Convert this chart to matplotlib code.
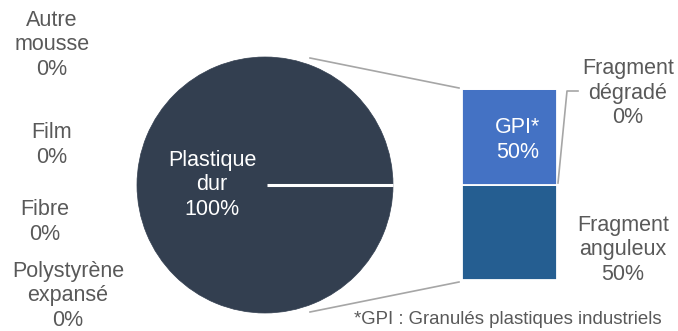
import matplotlib.pyplot as plt

# pie part
pie_labels = ["Autre\nmousse", "Film", "Fibre", "Polystyrène\nexpansé", "Plastique\ndur"]
pie_values = [0, 0, 0, 0, 100]

# bar part (breakdown)
bar_labels = ["Fragment\nanguleux", "GPI*", "Fragment\ndégradé"]
bar_values = [50, 50, 0]

footnote = "*GPI : Granulés plastiques industriels"

text_grey = "#595959"
pie_color = "#333F50"
bar_colors = ["#255E91", "#4472C4", "#A5A5A5"]
line_grey = "#A6A6A6"

plt.rcParams["font.family"] = ["Liberation Sans", "DejaVu Sans"]

fig = plt.figure(figsize=(6.78, 3.31), dpi=100)
ax = fig.add_axes([0, 0, 1, 1])

# pie drawn in pixel-like coords
cx, cy, r = 265, 185, 128
ax.pie(
    pie_values,
    colors=[pie_color] * len(pie_values),
    center=(cx, cy),
    radius=r,
    startangle=0,
    counterclock=False,
    wedgeprops=dict(edgecolor=pie_color, linewidth=0.5),
    frame=True,
)
# boundary of the empty slices, at the start angle
ax.plot([cx + 2, cx + r], [cy, cy], color="white", lw=2.2, solid_capstyle="butt")

ax.set_xlim(0, 678)
ax.set_ylim(331, 0)
ax.set_aspect("equal")
ax.axis("off")

# stacked bar
bx, bw = 509.5, 95
b_bottom, b_top = 280, 89
scale = (b_bottom - b_top) / sum(bar_values)
base = b_bottom
for val, col in zip(bar_values, bar_colors):
    h = val * scale
    ax.bar(bx, -h, bottom=base, width=bw, color=col, edgecolor="white", linewidth=1.3)
    base -= h

# connector lines
ax.plot([310, 459], [58, 88], color=line_grey, lw=1.2)
ax.plot([310, 459], [312, 282], color=line_grey, lw=1.2)
ax.plot([558, 567, 578], [183, 91, 91], color=line_grey, lw=1.2)

fs = 15.5
ls = 1.2
pie_pos = [(52, 45), (52, 145), (45, 222), (68, 296)]
for lab, val, (x, y) in zip(pie_labels[:4], pie_values[:4], pie_pos):
    ax.text(x, y, f"{lab}\n{val}%", ha="center", va="center", fontsize=fs,
            color=text_grey, linespacing=ls)
ax.text(212, 185, f"{pie_labels[4]}\n{pie_values[4]}%", ha="center", va="center",
        fontsize=fs, color="white", linespacing=ls)

ax.text(518, 140, f"{bar_labels[1]}\n{bar_values[1]}%", ha="center", va="center",
        fontsize=fs, color="white", linespacing=ls)
ax.text(623, 250, f"{bar_labels[0]}\n{bar_values[0]}%", ha="center", va="center",
        fontsize=fs, color=text_grey, linespacing=ls)
ax.text(628, 93, f"{bar_labels[2]}\n{bar_values[2]}%", ha="center", va="center",
        fontsize=fs, color=text_grey, linespacing=ls)

ax.text(508, 320, footnote, ha="center", va="center", fontsize=13.4, color=text_grey)

fig.savefig("out.png", dpi=100)
